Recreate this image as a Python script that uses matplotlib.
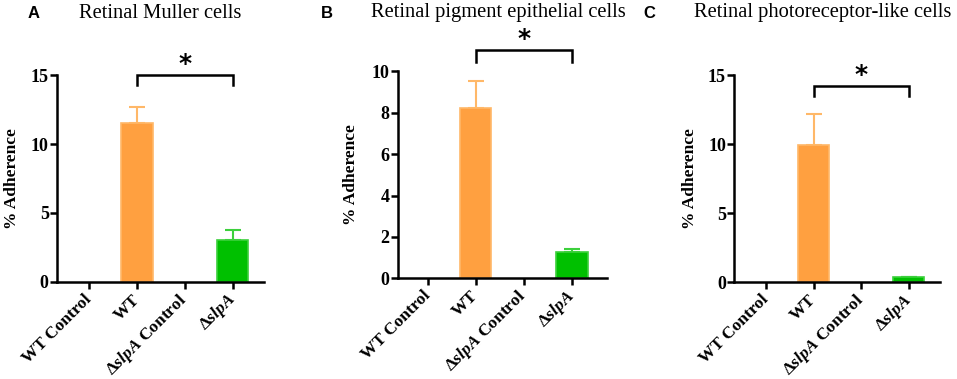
import matplotlib
matplotlib.use("Agg")
import matplotlib.pyplot as plt

plt.rcParams["font.family"] = ["Liberation Serif", "DejaVu Serif"]
plt.rcParams["mathtext.fontset"] = "custom"
plt.rcParams["mathtext.rm"] = "Liberation Serif:bold"
plt.rcParams["mathtext.it"] = "Liberation Serif:bold:italic"

# data
groups = ["WT Control", "WT", r"$\Delta\it{slpA}$ Control", r"$\Delta\it{slpA}$"]
titles = ["Retinal Muller cells", "Retinal pigment epithelial cells",
          "Retinal photoreceptor-like cells"]
letters = ["A", "B", "C"]
muller_mean = [0, 11.5, 0, 3.05]
muller_err = [0, 1.15, 0, 0.75]
rpe_mean = [0, 8.25, 0, 1.27]
rpe_err = [0, 1.27, 0, 0.15]
photo_mean = [0, 9.9, 0, 0.35]
photo_err = [0, 2.3, 0, 0.07]
yticks = [[0, 5, 10, 15], [0, 2, 4, 6, 8, 10], [0, 5, 10, 15]]
ymax = [15, 10, 15]
bracket_y = [15.0, 11.03, 14.2]
bracket_drop = [0.7, 0.57, 0.75]

bar_fill = ["#FFA040", "#FFA040", "#00C000", "#00C000"]
bar_edge = ["#FFB868", "#FFB868", "#3CD03C", "#3CD03C"]

# axes boxes [left, bottom, width, height] in figure fraction
boxes = [
    [0.0596, 0.256, 0.2163, 0.546],
    [0.4156, 0.2657, 0.2187, 0.546],
    [0.7673, 0.2551, 0.2150, 0.547],
]
xlims = [(-0.667, 3.65), (-0.625, 3.73), (-0.67, 3.66)]
title_x = [160, 498, 823]
letter_x = [34, 327, 649]
ylabel_pad = [7.5, 9, 7.5]

fig = plt.figure(figsize=(9.57, 3.79), dpi=100)
W, H = 957, 379

data = [(muller_mean, muller_err), (rpe_mean, rpe_err), (photo_mean, photo_err)]
for i, (means, errs) in enumerate(data):
    ax = fig.add_axes(boxes[i])
    x = list(range(len(groups)))
    for j in x:
        if means[j] == 0:
            continue
        ax.bar(j, means[j], width=0.65, color=bar_fill[j], edgecolor=bar_edge[j],
               linewidth=1.2, zorder=2)
        ax.errorbar(j, means[j], yerr=[[0], [errs[j]]], fmt="none",
                    ecolor=bar_edge[j], elinewidth=1.5, capsize=6, capthick=1.5, zorder=1)
    ax.set_xlim(*xlims[i])
    ax.set_ylim(0, ymax[i])
    ax.set_yticks(yticks[i])
    ax.set_yticklabels([str(t) for t in yticks[i]], fontweight="bold", fontsize=13)
    ax.set_xticks(x)
    ax.set_xticklabels(groups, rotation=45, ha="right", va="center",
                       rotation_mode="anchor", fontweight="bold", fontsize=12.5)
    ax.spines["top"].set_visible(False)
    ax.spines["right"].set_visible(False)
    ax.spines["left"].set_linewidth(1.8)
    ax.spines["bottom"].set_linewidth(1.8)
    ax.tick_params(width=1.8, length=5)
    ax.tick_params(axis="y", pad=1)
    ax.tick_params(axis="x", pad=6)
    ax.set_ylabel("% Adherence", fontweight="bold", fontsize=12.5,
                  labelpad=ylabel_pad[i])

    # significance bracket
    by = bracket_y[i]
    bd = bracket_drop[i]
    ax.plot([1, 1, 3, 3], [by - bd, by, by, by - bd], color="black", lw=1.8,
            clip_on=False, solid_joinstyle="miter")
    ax.annotate("*", xy=(2, by), xytext=(0, -1), textcoords="offset points",
                ha="center", va="bottom", fontsize=18, fontweight="bold",
                family="DejaVu Sans", annotation_clip=False)

    fig.text(title_x[i] / W, 1 - 13 / H, titles[i], ha="center", va="center",
             fontsize=14.8)
    fig.text(letter_x[i] / W, 1 - 14 / H, letters[i], ha="center", va="center",
             fontsize=12, fontweight="bold", family="Liberation Sans")

fig.savefig("out.png", dpi=100)
